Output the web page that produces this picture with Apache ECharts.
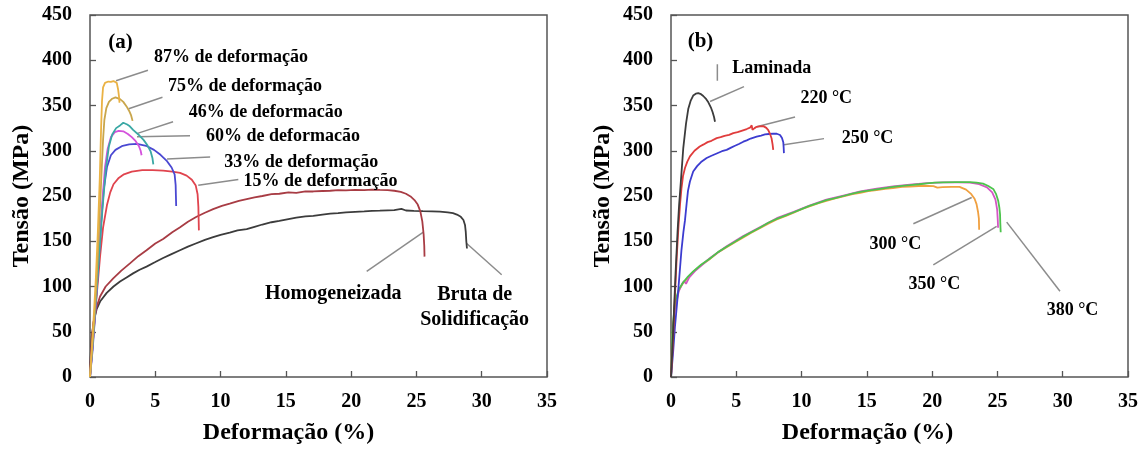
<!DOCTYPE html>
<html>
<head>
<meta charset="utf-8">
<script src="https://cdn.jsdelivr.net/npm/echarts@6/dist/echarts.min.js"></script>
<style>
  html, body { margin: 0; padding: 0; background: #ffffff; }
  #chart { width: 1143px; height: 450px; }
</style>
</head>
<body>
<div id="chart"></div>
<script>
// Stress–strain curves, strain in %, stress on the plotted scale (0–400 in steps of 50).
// The printed stress ticks step 0,50,100,150 then 250…450 (no 200 label).
const yTickLabels = ['0', '50', '100', '150', '250', '300', '350', '400', '450'];
const xTickStep = 5;

// ---- panel (a): levels of prior deformation ----
const def87 = [[0,0],[0.15,35],[0.3,70],[0.45,110],[0.6,160],[0.75,220],[0.85,275],[0.92,305],[1.0,320],[1.15,325],[1.4,326.5],[1.6,326],[1.8,327],[1.95,327.5],[2.05,325],[2.15,318],[2.22,310],[2.26,303]];
const def75 = [[0,0],[0.15,30],[0.3,58],[0.5,105],[0.7,165],[0.85,215],[1.0,262],[1.1,284],[1.25,297],[1.45,304],[1.7,307.5],[1.95,309],[2.1,309.5],[2.3,307],[2.55,304],[2.8,299],[3.0,294],[3.15,289],[3.26,283]];
const def46 = [[0,0],[0.2,35],[0.45,85],[0.7,135],[0.95,185],[1.2,228],[1.45,255],[1.7,268],[2.0,275],[2.3,278],[2.55,281],[2.7,282],[2.85,279],[3.05,277],[3.3,273],[3.7,268],[4.1,262],[4.4,256],[4.65,249],[4.78,242],[4.85,235]];
const def60 = [[0,0],[0.2,35],[0.45,85],[0.7,140],[0.95,195],[1.15,232],[1.35,252],[1.6,265],[1.9,270.5],[2.2,272],[2.55,271.5],[2.9,268.5],[3.2,265],[3.5,260.5],[3.75,255],[3.88,250],[3.95,245]];
const def33 = [[0,0],[0.2,30],[0.4,70],[0.65,125],[0.85,170],[1.05,207],[1.3,232],[1.6,245],[1.95,251],[2.5,255.5],[3.0,257],[3.6,257.5],[4.3,255.5],[4.9,251],[5.4,245.5],[5.9,238.5],[6.25,231.5],[6.48,224],[6.56,212],[6.58,200],[6.6,189]];
const def15 = [[0,0],[0.2,35],[0.45,80],[0.77,133],[1.0,165],[1.3,190],[1.55,204],[1.8,213],[2.2,220],[2.6,224],[3.2,227],[4.0,228.5],[4.8,228.5],[5.6,228],[6.3,227],[6.9,225.5],[7.4,222.5],[7.8,218],[8.1,211.5],[8.24,202],[8.3,188],[8.32,175],[8.34,162]];
const homogeneizada = [[0,0],[0.05,18],[0.12,38],[0.26,60],[0.5,77],[0.77,89],[1.2,100],[1.78,109],[2.4,117.5],[3.06,125.5],[3.7,133.5],[4.33,140],[5.0,147.5],[5.6,152.5],[6.3,160],[6.9,165.5],[7.5,171.5],[8.16,177],[8.8,181.5],[9.43,185.5],[10.1,189],[10.7,191.5],[11.4,194.5],[12.0,196.5],[12.6,198.5],[13.2,200],[13.9,202],[14.5,202.5],[15.2,204],[15.8,203.5],[16.5,205],[17.1,205],[17.8,205.5],[18.4,205.8],[19.0,206.5],[19.6,206.3],[20.3,206.8],[21.0,206.5],[21.6,207],[22.2,206.7],[22.8,206.5],[23.3,205.8],[23.8,204.5],[24.2,202.5],[24.55,199.5],[24.85,195.5],[25.1,190.5],[25.3,183],[25.45,172],[25.55,158],[25.6,145],[25.62,133]];
const brutaSolidificacao = [[0,0],[0.04,20],[0.13,45],[0.3,62],[0.51,75],[0.8,84],[1.28,93],[1.8,100],[2.3,105.5],[2.8,110],[3.3,114.5],[3.8,118.5],[4.33,122],[5.0,127],[5.6,131.5],[6.2,135.5],[6.89,140],[7.5,144],[8.1,147.5],[8.8,151.5],[9.43,154.5],[10.0,157],[10.7,159.5],[11.3,162],[12.0,163.5],[12.6,166],[13.2,168.5],[13.9,171],[14.5,172.5],[15.2,174.5],[15.8,176],[16.5,177.5],[17.1,178],[17.8,179.5],[18.4,180.5],[19.0,181],[19.6,182],[20.3,182.5],[21.0,183],[21.6,183.5],[22.2,183.8],[22.8,184.2],[23.3,184.5],[23.85,185.8],[24.2,184],[24.8,183.5],[25.5,183.2],[26.2,183],[26.8,182.8],[27.4,182],[27.8,181],[28.1,179.5],[28.4,177],[28.6,173.5],[28.72,168],[28.78,160],[28.82,150],[28.87,142]];

// ---- panel (b): rolled and annealing temperatures ----
const laminada = [[0,0],[0.1,30],[0.22,70],[0.35,115],[0.5,160],[0.62,190],[0.75,215],[0.94,253],[1.15,280],[1.32,296],[1.5,305],[1.7,311],[1.9,313],[2.09,313.6],[2.3,312.5],[2.47,310.5],[2.7,307],[2.86,303.5],[3.05,298],[3.19,292.5],[3.3,287],[3.37,282]];
const t220 = [[0,0],[0.1,25],[0.18,49],[0.3,90],[0.44,133],[0.58,168],[0.7,192],[0.8,208],[0.92,222],[1.07,231],[1.25,238],[1.45,243.8],[1.8,250],[2.2,254.7],[2.5,257],[2.8,259.5],[3.1,261],[3.5,264],[3.8,265],[4.1,266.5],[4.45,267.5],[4.77,269.5],[5.1,270.5],[5.4,272],[5.8,274],[6.05,275.5],[6.18,278],[6.24,273],[6.4,275],[6.56,276.5],[6.8,277],[7.07,277.2],[7.3,275.3],[7.45,272.8],[7.6,268],[7.7,263.8],[7.78,257],[7.83,251]];
const t250 = [[0,0],[0.15,25],[0.3,55],[0.56,96.7],[0.8,140],[0.95,160],[1.07,173],[1.2,192],[1.3,205.7],[1.45,216],[1.7,227],[2.0,233],[2.3,237.5],[2.73,242],[3.1,244.5],[3.5,247],[3.9,249.5],[4.26,251],[4.6,253.5],[4.9,255.5],[5.2,257.5],[5.54,260],[5.8,261.5],[6.1,263.5],[6.56,265.6],[6.9,266.8],[7.2,268],[7.5,268.5],[7.83,269],[8.1,268.8],[8.35,267.4],[8.5,264],[8.6,259.5],[8.63,253],[8.65,247.4]];
const t300 = [[0,0],[0.1,45],[0.3,80],[0.6,96],[0.94,104],[1.7,116],[2.3,123.5],[2.99,130.5],[3.6,137.5],[4.26,143.5],[4.9,149],[5.5,154],[6.15,159.5],[6.8,164.5],[7.45,169.5],[8.1,174],[8.8,178],[9.4,181.5],[10.0,185.5],[10.6,188.5],[11.3,192],[11.9,194.5],[12.5,197],[13.2,199.5],[13.9,202],[14.5,203.5],[15.1,205.5],[15.75,206.5],[16.4,208],[17.0,208.8],[17.7,210],[18.3,210.5],[19.3,211.3],[20.1,211],[20.4,209.3],[20.8,209.8],[21.5,210],[22.1,210],[22.6,207],[23.0,202],[23.25,197],[23.4,191],[23.52,182],[23.58,175],[23.6,162.7]];
const t350 = [[0,0],[0.1,40],[0.3,75],[0.6,95],[0.85,103],[1.0,106],[1.15,103],[1.4,110],[1.9,118],[2.99,131.5],[4.26,144.5],[5.5,155.5],[6.8,165.5],[8.1,175.5],[9.4,182.5],[10.6,189.5],[11.9,196],[13.2,200.5],[14.5,205],[15.75,208],[17.0,210.5],[18.3,212.5],[19.6,214.3],[20.85,215],[22.0,215],[22.9,214.8],[23.6,213],[24.2,209.5],[24.6,204],[24.85,196],[24.98,185],[25.02,175],[25.05,165]];
const t380 = [[0,0],[0.05,20],[0.1,49],[0.3,82],[0.6,97],[0.94,104.6],[1.3,111],[1.7,116.6],[2.3,124],[2.99,131],[3.6,138],[4.26,143.9],[4.9,149.5],[5.5,154.8],[6.15,160],[6.8,165],[7.45,170.5],[8.1,174.7],[8.8,178.5],[9.4,182],[10.0,185.5],[10.6,189],[11.3,192.5],[11.9,195.4],[12.5,197.5],[13.2,200],[13.9,202.5],[14.5,204.5],[15.1,206],[15.75,207.4],[16.4,208.8],[17.0,210],[17.7,211.2],[18.3,212],[19.0,213],[19.6,214],[20.2,214.7],[20.85,215],[21.8,215.3],[22.9,215.4],[23.4,214.8],[23.9,213.6],[24.3,211],[24.7,207.4],[24.9,202],[25.06,194.7],[25.15,187],[25.2,180],[25.22,170],[25.25,160]];

// ---- callout texts and their leader lines (strain %, plotted stress) ----
const notesA = [
  { text: '(a)', at: [2.34, 369], size: 21 },
  { text: '87% de deformação', at: [10.8, 352.8] },
  { text: '75% de deformação', at: [11.87, 321.2] },
  { text: '46% de deformacão', at: [13.46, 292.9] },
  { text: '60% de deformacão', at: [14.78, 266.3] },
  { text: '33% de deformação', at: [16.18, 237.3] },
  { text: '15% de deformação', at: [17.65, 216.6] },
  { text: 'Homogeneizada', at: [18.63, 91.9], size: 20 },
  { text: 'Bruta de\nSolidificação', at: [29.46, 76.5], size: 20 }
];
const leadersA = [
  [[1.99, 327.3], [4.44, 339]],
  [[2.96, 296.5], [5.55, 309.2]],
  [[3.64, 269.2], [6.36, 282]],
  [[3.6, 265.5], [7.66, 266.7]],
  [[5.9, 241], [9.2, 243]],
  [[8.29, 211.8], [11.36, 218.3]],
  [[21.19, 116.6], [25.53, 160.2]],
  [[28.85, 147.5], [31.53, 113]]
];
const notesB = [
  { text: '(b)', at: [2.26, 370.9], size: 21 },
  { text: 'Laminada', at: [7.71, 340.8] },
  { text: '220 °C', at: [11.89, 307.9] },
  { text: '250 °C', at: [15.05, 263.8] },
  { text: '300 °C', at: [17.18, 146.8] },
  { text: '350 °C', at: [20.17, 102.1] },
  { text: '380 °C', at: [30.75, 74.1] }
];
const leadersB = [
  [[2.99, 304.4], [5.59, 320.8]],
  [[3.55, 345.5], [3.55, 327.3]],
  [[6.56, 276.5], [9.5, 287.4]],
  [[8.65, 256.7], [11.72, 263.4]],
  [[18.56, 169.3], [23.03, 198.4]],
  [[20.09, 123.9], [24.94, 166.4]],
  [[25.71, 171.1], [29.79, 94.8]]
];

const FONT = '"Liberation Serif", "Times New Roman", serif';
const INK = '#000000';
const FRAME = '#555555';

function curve(data, color, gi) {
  return {
    type: 'line', data: data, xAxisIndex: gi, yAxisIndex: gi,
    symbol: 'none', showSymbol: false, silent: true, z: 3,
    lineStyle: { color: color, width: 1.8 }
  };
}
function leader(seg, gi) {
  return {
    type: 'line', data: seg, xAxisIndex: gi, yAxisIndex: gi,
    symbol: 'none', showSymbol: false, silent: true, z: 2,
    lineStyle: { color: '#8c8c8c', width: 1.5 }
  };
}
function notes(list, gi) {
  return {
    type: 'scatter', xAxisIndex: gi, yAxisIndex: gi, symbolSize: 0, silent: true, z: 5,
    itemStyle: { opacity: 1 },
    data: list.map(n => ({
      name: n.text, value: n.at,
      label: { fontSize: n.size || 18, lineHeight: 25 }
    })),
    label: {
      show: true, position: 'inside', formatter: '{b}', opacity: 1,
      fontFamily: FONT, fontWeight: 'bold', color: INK, fontSize: 18,
      textBorderWidth: 0, textShadowBlur: 0
    }
  };
}
function xAxis(gi, shift) {
  return {
    type: 'value', gridIndex: gi, min: 0, max: 35, interval: xTickStep,
    axisLine: { show: false },
    axisTick: { show: true, inside: true, length: 6, lineStyle: { color: FRAME, width: 1.3 } },
    splitLine: { show: false },
    axisLabel: { fontFamily: FONT, fontWeight: 'bold', fontSize: 20, color: INK, margin: 15 },
    name: 'Deformação (%)', nameLocation: 'middle', nameGap: 44,
    nameTextStyle: { fontFamily: FONT, fontWeight: 'bold', fontSize: 24, color: INK,
                     padding: [0, shift, 0, 0] }
  };
}
function yAxis(gi) {
  return {
    type: 'value', gridIndex: gi, min: 0, max: 400, interval: 50,
    axisLine: { show: false },
    axisTick: { show: true, inside: true, length: 6, lineStyle: { color: FRAME, width: 1.3 } },
    splitLine: { show: false },
    axisLabel: {
      formatter: v => yTickLabels[Math.round(v / 50)],
      fontFamily: FONT, fontWeight: 'bold', fontSize: 20, color: INK, margin: 18
    },
    name: 'Tensão (MPa)', nameLocation: 'middle', nameRotate: 90, nameGap: 56,
    nameTextStyle: { fontFamily: FONT, fontWeight: 'bold', fontSize: 24, color: INK }
  };
}

const series = [
  curve(brutaSolidificacao, '#3c3c3c', 0),
  curve(homogeneizada, '#a83c44', 0),
  curve(def15, '#e0444e', 0),
  curve(def33, '#4a48d2', 0),
  curve(def60, '#d452dc', 0),
  curve(def46, '#3aa8a4', 0),
  curve(def75, '#c9a64c', 0),
  curve(def87, '#eab244', 0),
  curve(t300, '#f0a040', 1),
  curve(t350, '#d456c4', 1),
  curve(t380, '#4cc44c', 1),
  curve(t250, '#3c3cd0', 1),
  curve(t220, '#e03c3c', 1),
  curve(laminada, '#3c3c3c', 1)
];
leadersA.forEach(s => series.push(leader(s, 0)));
leadersB.forEach(s => series.push(leader(s, 1)));
series.push(notes(notesA, 0));
series.push(notes(notesB, 1));

const chart = echarts.init(document.getElementById('chart'), null, { renderer: 'canvas' });
chart.setOption({
  animation: false,
  backgroundColor: '#ffffff',
  grid: [
    { left: 90, top: 15, width: 457, height: 367, show: true, borderColor: FRAME, borderWidth: 1.5, backgroundColor: 'transparent' },
    { left: 671, top: 15, width: 457, height: 367, show: true, borderColor: FRAME, borderWidth: 1.5, backgroundColor: 'transparent' }
  ],
  xAxis: [xAxis(0, 60), xAxis(1, 64)],
  yAxis: [yAxis(0), yAxis(1)],
  series: series
});
</script>
</body>
</html>
